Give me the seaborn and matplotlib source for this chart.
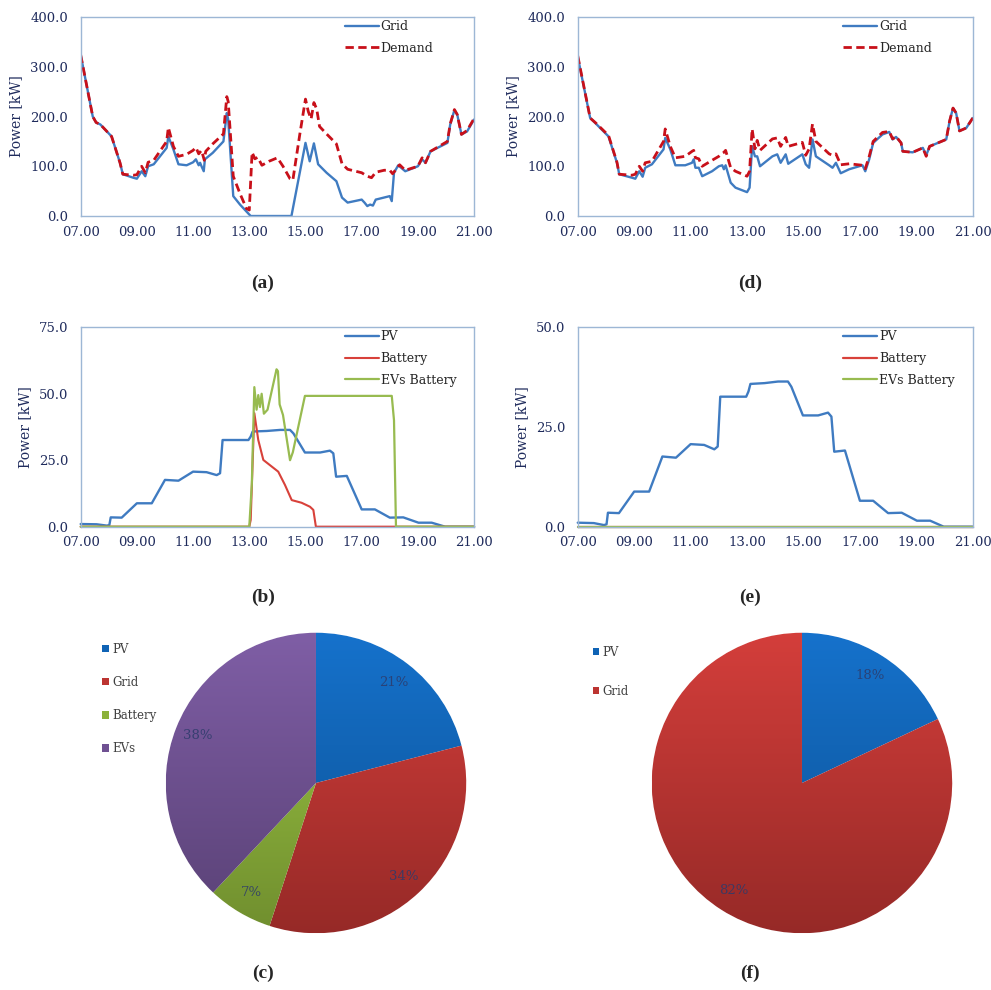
import numpy as np
import matplotlib
matplotlib.use('Agg')
import matplotlib.pyplot as plt
import matplotlib.colors as mcolors
from matplotlib.patches import Patch
from matplotlib.ticker import FormatStrFormatter
import seaborn as sns

sns.set_style('white')
plt.rcParams['font.family'] = ['DejaVu Serif']

# panel (a): grid / demand with V2G scheduling
grid_a_t = [7.0, 7.43, 7.55, 7.7, 8.1, 8.4, 8.5, 8.87, 9.0, 9.17, 9.3, 9.4, 9.6, 10.06, 10.12, 10.3,
            10.48, 10.77, 11.0, 11.1, 11.2, 11.25, 11.3, 11.38, 11.42, 11.7, 12.08, 12.2, 12.25, 12.43,
            12.67, 13.0, 13.05, 14.5, 15.0, 15.15, 15.3, 15.45, 15.75, 16.1, 16.3, 16.5, 17.0, 17.1,
            17.2, 17.3, 17.4, 17.5, 18.0, 18.07, 18.15, 18.3, 18.55, 19.0, 19.15, 19.27, 19.45, 20.05,
            20.15, 20.3, 20.4, 20.55, 20.75, 21.0]
grid_a_v = [324, 200, 188, 184, 160, 107, 84, 77, 75, 90, 80, 100, 104, 137, 160, 134,
            104, 102, 108, 114, 102, 107, 100, 90, 114, 127, 150, 207, 194, 40,
            23, 3, 0, 0, 147, 110, 146, 104, 87, 70, 37, 27, 33, 27,
            20, 23, 21, 33, 40, 30, 87, 102, 90, 100, 114, 107, 130, 147,
            184, 213, 204, 164, 170, 194]
demand_a_t = [7.0, 7.43, 7.55, 7.7, 8.1, 8.4, 8.5, 8.87, 9.0, 9.17, 9.3, 9.4, 9.6, 10.06, 10.12, 10.3,
              10.48, 10.77, 11.0, 11.1, 11.2, 11.3, 11.4, 11.45, 11.7, 12.08, 12.2, 12.25, 12.43, 12.67,
              12.9, 13.0, 13.1, 13.2, 13.3, 13.45, 13.7, 14.0, 14.2, 14.45, 14.55, 14.8, 15.0, 15.1,
              15.2, 15.3, 15.4, 15.5, 15.75, 16.1, 16.3, 16.5, 17.0, 17.2, 17.35, 17.5, 17.8, 18.0,
              18.1, 18.2, 18.35, 18.55, 19.0, 19.15, 19.27, 19.45, 20.05, 20.15, 20.3, 20.4, 20.55,
              20.75, 21.0]
demand_a_v = [324, 200, 188, 184, 160, 107, 84, 82, 83, 100, 87, 108, 112, 150, 178, 140,
              120, 124, 132, 138, 125, 132, 112, 130, 145, 165, 240, 230, 80, 45,
              15, 12, 128, 115, 118, 102, 110, 117, 100, 75, 72, 165, 235, 210,
              195, 228, 215, 180, 165, 145, 105, 94, 87, 80, 77, 88, 92, 92,
              85, 92, 103, 92, 100, 117, 107, 130, 150, 185, 214, 204, 164,
              172, 196]

# panel (d): grid / demand without storage
d_t = [7.0, 7.44, 7.62, 8.09, 8.39, 8.47, 8.92, 9.04, 9.18, 9.3, 9.39, 9.63, 10.04, 10.1, 10.28,
       10.46, 10.81, 11.05, 11.11, 11.17, 11.29, 11.41, 11.76, 12.0, 12.12, 12.18, 12.24, 12.42,
       12.59, 13.0, 13.09, 13.18, 13.28, 13.36, 13.46, 13.9, 14.07, 14.19, 14.37, 14.46, 14.96,
       15.08, 15.2, 15.32, 15.44, 15.91, 16.03, 16.15, 16.32, 16.62, 17.09, 17.19, 17.33, 17.47,
       17.8, 18.04, 18.16, 18.28, 18.46, 18.52, 18.87, 19.23, 19.35, 19.47, 20.06, 20.18, 20.3,
       20.41, 20.53, 20.77, 21.0]
grid_d_v = [320, 197, 187, 160, 107, 84, 77, 75, 90, 79, 97, 104, 134, 157, 134,
            102, 102, 107, 114, 97, 97, 80, 90, 100, 102, 94, 102, 67,
            57, 48, 57, 140, 120, 120, 100, 120, 124, 107, 124, 105, 124,
            104, 97, 154, 120, 102, 97, 107, 86, 94, 102, 90, 114, 147,
            164, 169, 154, 159, 147, 130, 128, 137, 122, 140, 154, 191, 217,
            207, 171, 177, 197]
demand_d_v = [322, 197, 188, 162, 108, 84, 82, 84, 100, 90, 107, 110, 150, 175, 140,
              117, 120, 130, 132, 117, 115, 100, 112, 120, 126, 128, 132, 97,
              90, 80, 90, 175, 135, 152, 132, 155, 157, 140, 158, 140, 148,
              122, 135, 185, 150, 125, 122, 125, 103, 105, 102, 95, 120, 150,
              168, 170, 155, 160, 147, 130, 128, 137, 120, 140, 154, 191, 217,
              207, 171, 177, 197]

# panels (b)/(e): sources
pv_t = [7.0, 7.57, 7.93, 8.02, 8.07, 8.46, 9.0, 9.53, 10.0, 10.48, 11.0, 11.48, 11.84, 11.96, 12.05,
        12.97, 13.05, 13.12, 13.62, 14.1, 14.45, 14.57, 14.98, 15.52, 15.87, 15.99, 16.09, 16.47,
        17.0, 17.47, 18.0, 18.48, 19.02, 19.49, 19.97, 21.0]
pv_v = [1.0, 0.9, 0.4, 0.6, 3.5, 3.4, 8.8, 8.8, 17.6, 17.3, 20.7, 20.5, 19.4, 20.1, 32.6,
        32.6, 33.9, 35.8, 36.0, 36.4, 36.4, 35.1, 27.9, 27.9, 28.6, 27.6, 18.8, 19.1,
        6.5, 6.5, 3.4, 3.5, 1.5, 1.5, 0.0, 0.0]
battery_t = [7.0, 13.0, 13.05, 13.18, 13.32, 13.5, 14.03, 14.27, 14.51, 14.86, 15.16, 15.28, 15.37, 21.0]
battery_v = [0, 0, 2.5, 42.7, 32.6, 25.1, 20.7, 15.7, 10.0, 9.0, 7.5, 6.3, 0, 0]
ev_t = [7.0, 13.0, 13.09, 13.18, 13.26, 13.32, 13.38, 13.44, 13.52, 13.65, 13.97, 14.02, 14.08,
        14.2, 14.45, 14.55, 14.98, 18.07, 18.15, 18.22, 21.0]
ev_v = [0, 0, 16, 52.5, 44, 49.5, 45, 50, 42.5, 44, 59.2, 58.5, 46, 42, 25, 28, 49.2, 49.2, 40, 0, 0]
zero_t = [7.0, 21.0]
zero_v = [0, 0]

# pies
mix_c_names = ['PV', 'Grid', 'Battery', 'EVs']
mix_c = [21, 34, 7, 38]
mix_f_names = ['PV', 'Grid']
mix_f = [18, 82]

hour_ticks = [7, 9, 11, 13, 15, 17, 19, 21]
hour_labels = ['07.00', '09.00', '11.00', '13.00', '15.00', '17.00', '19.00', '21.00']

NAVY = '#1F2B5C'
FRAME = '#9DB7D5'
BLUE = '#3F7BC1'
RED_D = '#C8101A'
RED = '#D8413A'
GREEN = '#98BB50'
PIE_COLS = {'PV': '#0F63B5', 'Grid': '#BC3431', 'Battery': '#8CB23A', 'EVs': '#6F5192'}

fig = plt.figure(figsize=(9.91, 9.90), dpi=100)


def style_axes(ax, ymax, ystep):
    ax.set_xlim(7, 21)
    ax.set_ylim(0, ymax)
    ax.set_xticks(hour_ticks)
    ax.set_xticklabels(hour_labels)
    ax.set_yticks(np.arange(0, ymax + 0.1, ystep))
    ax.yaxis.set_major_formatter(FormatStrFormatter('%.1f'))
    ax.tick_params(axis='both', length=0, labelsize=9.5, labelcolor=NAVY)
    ax.tick_params(axis='y', pad=9)
    ax.tick_params(axis='x', pad=7)
    for s in ax.spines.values():
        s.set_color(FRAME)
        s.set_linewidth(1)
    ax.set_xlabel('')
    ax.set_ylabel('Power [kW]', fontsize=10, color=NAVY, labelpad=5)
    ax.legend(loc='upper left', bbox_to_anchor=(0.672, 0.985), frameon=False, fontsize=9,
              handlelength=2.7, handletextpad=0.15, labelspacing=0.7, borderaxespad=0,
              borderpad=0, labelcolor='#262626')


# (a)
ax = fig.add_axes([0.0814, 0.7818, 0.397, 0.201])
sns.lineplot(x=grid_a_t, y=grid_a_v, ax=ax, color=BLUE, lw=1.7, label='Grid', estimator=None)
sns.lineplot(x=demand_a_t, y=demand_a_v, ax=ax, color=RED_D, lw=2.0, label='Demand',
             estimator=None, linestyle=(0, (3, 1.6)))
style_axes(ax, 400, 100)

# (d)
ax = fig.add_axes([0.583, 0.7818, 0.3986, 0.201])
sns.lineplot(x=d_t, y=grid_d_v, ax=ax, color=BLUE, lw=1.7, label='Grid', estimator=None)
sns.lineplot(x=d_t, y=demand_d_v, ax=ax, color=RED_D, lw=2.0, label='Demand',
             estimator=None, linestyle=(0, (3, 1.6)))
style_axes(ax, 400, 100)

# (b)
ax = fig.add_axes([0.0814, 0.468, 0.397, 0.2014])
sns.lineplot(x=pv_t, y=pv_v, ax=ax, color=BLUE, lw=1.7, label='PV', estimator=None, clip_on=False)
sns.lineplot(x=battery_t, y=battery_v, ax=ax, color=RED, lw=1.5, label='Battery', estimator=None, clip_on=False)
sns.lineplot(x=ev_t, y=ev_v, ax=ax, color=GREEN, lw=1.6, label='EVs Battery', estimator=None, clip_on=False)
style_axes(ax, 75, 25)

# (e)
ax = fig.add_axes([0.583, 0.468, 0.3986, 0.2014])
sns.lineplot(x=pv_t, y=pv_v, ax=ax, color=BLUE, lw=1.7, label='PV', estimator=None, clip_on=False)
sns.lineplot(x=zero_t, y=zero_v, ax=ax, color=RED, lw=1.6, label='Battery', estimator=None, clip_on=False)
sns.lineplot(x=zero_t, y=zero_v, ax=ax, color=GREEN, lw=1.6, label='EVs Battery', estimator=None, clip_on=False)
style_axes(ax, 50, 25)


def draw_pie(rect, values, names, leg_anchor, spacing):
    ax = fig.add_axes(rect)
    cols = [PIE_COLS[n] for n in names]
    wedges, _, autotexts = ax.pie(values, colors=cols, startangle=90, counterclock=False,
                                  autopct='%1.0f%%', pctdistance=0.85,
                                  textprops=dict(color='#2D3B6B', fontsize=9.5))
    grad = np.linspace(0, 1, 200)[:, None, None]
    for w, c in zip(wedges, cols):
        rgb = np.array(mcolors.to_rgb(c))
        top = np.clip(rgb * 1.1 + 0.02, 0, 1)
        bot = rgb * 0.8
        img = top * (1 - grad) + bot * grad
        im = ax.imshow(img, extent=(-1, 1, -1, 1), aspect='auto', zorder=1, interpolation='bilinear')
        im.set_clip_path(w)
    for t in autotexts:
        t.set_zorder(3)
        t.set_alpha(0.85)
    ax.set_xlim(-1.005, 1.005)
    ax.set_ylim(-1.005, 1.005)
    ax.set_aspect('equal')
    ax.axis('off')
    handles = [Patch(facecolor=c, edgecolor='none') for c in cols]
    fig.legend(handles, names, loc='upper left', bbox_to_anchor=leg_anchor, frameon=False,
               fontsize=8.5, handlelength=0.55, handleheight=0.55, handletextpad=0.3,
               labelspacing=spacing, borderpad=0, borderaxespad=0, labelcolor='#404040')


draw_pie([0.1665, 0.0566, 0.3047, 0.305], mix_c, mix_c_names, (0.103, 0.3505), 1.7)
draw_pie([0.6569, 0.0566, 0.3047, 0.305], mix_f, mix_f_names, (0.598, 0.3475), 2.2)

for lbl, x, y in [('(a)', 0.2654, 0.7141), ('(d)', 0.7568, 0.7141),
                  ('(b)', 0.2654, 0.397), ('(e)', 0.7568, 0.397),
                  ('(c)', 0.2654, 0.0172), ('(f)', 0.7568, 0.0172)]:
    fig.text(x, y, lbl, ha='center', va='center', fontsize=14, fontweight='bold',
             family='Liberation Serif')

fig.savefig('out.png', dpi=100)
